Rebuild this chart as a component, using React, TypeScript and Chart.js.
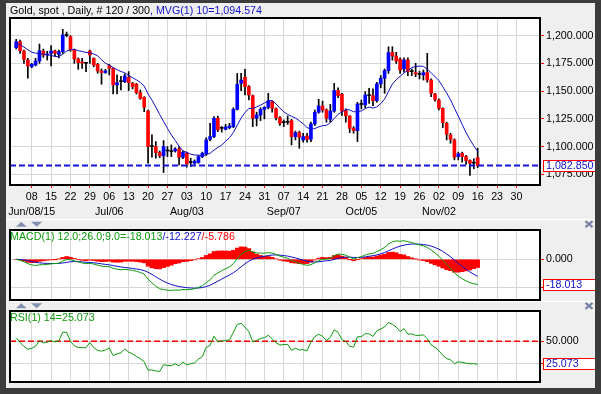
import React, { useEffect, useRef } from 'react';
import { Chart, registerables } from 'chart.js';

Chart.register(...registerables);

const FONT = '"Liberation Sans", Arial, sans-serif';
const FSIZE = 10.7;

// Daily OHLC, gold spot, bars 1..120 (Jun 2 – Nov 16, 2015)
const opens = [
  1189.2, 1194.6, 1186.2, 1178, 1172.1, 1173.6, 1177.2, 1186.2, 1182.6, 1184.1,
  1186.2, 1183.2, 1185.6, 1200.6, 1199.1, 1187.1, 1179, 1176.3, 1175.1, 1186.2,
  1179.6, 1174.2, 1168.2, 1166.7, 1173, 1170.6, 1155.6, 1158.6, 1158.6, 1162.5,
  1157.1, 1156.2, 1148.6, 1144.4, 1132.1, 1100, 1100, 1094.6, 1091.6, 1096.1,
  1095.5, 1096.1, 1097.9, 1090.4, 1094, 1085.6, 1085, 1085.6, 1091, 1093.4,
  1106.6, 1109, 1125.5, 1116.5, 1115.6, 1117.1, 1118, 1133.6, 1157.1, 1162.5,
  1154.1, 1145.9, 1125.5, 1128.5, 1133.6, 1135.4, 1140.5, 1134.2, 1126.1, 1121.6,
  1121.9, 1123.4, 1109, 1112.6, 1106, 1109.6, 1106.6, 1120.4, 1131, 1136.6,
  1133, 1124.6, 1132, 1150.5, 1147.1, 1132.4, 1127.6, 1116.5, 1114.4, 1138,
  1137.5, 1146, 1145.9, 1141.4, 1156.5, 1161.6, 1168.5, 1185, 1181.7, 1178.7,
  1170, 1178.1, 1167.6, 1166.7, 1165, 1164.6, 1166.7, 1160, 1147.4, 1142,
  1134.5, 1121, 1110.5, 1106, 1091, 1094, 1091, 1087.4, 1085, 1090,
];
const highs = [
  1196.7, 1196, 1187, 1179.6, 1175.1, 1179.6, 1192.5, 1188, 1186, 1191,
  1187, 1187, 1205.7, 1203.3, 1200, 1188, 1180, 1179.6, 1176, 1187.1,
  1180, 1175, 1170, 1169.7, 1174.2, 1171, 1164.6, 1163.4, 1165.5, 1167.6,
  1158, 1157, 1151, 1145, 1133, 1110.5, 1104.5, 1096, 1105.4, 1100,
  1101.5, 1099, 1100, 1096, 1095, 1089.5, 1088, 1092, 1095, 1108,
  1121, 1127, 1127.6, 1118, 1120, 1121, 1135, 1166, 1166.1, 1169.7,
  1155, 1146.5, 1131, 1135, 1136, 1148, 1141, 1135, 1127, 1124,
  1127.6, 1124.5, 1114, 1114, 1112, 1112, 1122, 1133, 1142.6, 1141,
  1134, 1138, 1157, 1153, 1148, 1134, 1128, 1118, 1140, 1142,
  1149.5, 1152.6, 1152, 1158, 1164, 1170, 1190, 1190, 1185, 1180,
  1180, 1180, 1170, 1175.1, 1168, 1169, 1184.1, 1161, 1148, 1143,
  1135, 1122, 1112, 1107, 1095, 1095, 1092, 1088, 1089, 1098.5,
];
const lows = [
  1188, 1184, 1175, 1161.6, 1171, 1172.7, 1175, 1180.5, 1178, 1172.7,
  1182, 1180, 1184, 1199, 1186, 1175.1, 1169.7, 1170.6, 1167.6, 1175.1,
  1172, 1166.1, 1156.2, 1166, 1164.6, 1147.4, 1147.4, 1151, 1157.7, 1150.5,
  1152, 1147.4, 1142.6, 1131.5, 1085, 1090.4, 1089.5, 1090, 1076.6, 1091,
  1091, 1095, 1083.5, 1089, 1081.4, 1082, 1084, 1085, 1090, 1092,
  1105, 1108, 1113.5, 1113, 1115, 1116, 1117, 1133, 1150.5, 1146.5,
  1142, 1118, 1118.6, 1123.4, 1125, 1134, 1131, 1124, 1119, 1118,
  1120, 1101.5, 1106, 1098.5, 1104, 1104, 1104.5, 1119, 1130, 1131,
  1122, 1122, 1131, 1144, 1128, 1122, 1112.6, 1112, 1104.5, 1134,
  1135, 1139, 1137, 1140, 1153, 1148, 1166, 1178, 1175, 1166,
  1167, 1164, 1164, 1163, 1161, 1160, 1158, 1145, 1141, 1133,
  1117, 1106, 1103, 1088, 1088, 1086, 1084, 1073.9, 1080, 1081,
];
const closes = [
  1194.6, 1186.5, 1178.7, 1172.7, 1174.2, 1177.2, 1186.5, 1182.6, 1183.5, 1186.2,
  1184.1, 1185.6, 1200.6, 1200.3, 1187.1, 1179, 1175.7, 1175.4, 1175.1, 1182.6,
  1173.6, 1168.2, 1166.7, 1168.2, 1170.6, 1155.6, 1157.7, 1158.9, 1163.7, 1157.7,
  1154.1, 1148.6, 1143.5, 1135.4, 1100, 1100.3, 1094.6, 1091.6, 1100, 1096.4,
  1095.8, 1097.9, 1090.4, 1094.9, 1084.4, 1085.9, 1086.8, 1091, 1094, 1106,
  1109, 1125.5, 1115, 1116.8, 1117.7, 1118.6, 1133.6, 1156.2, 1160, 1154.1,
  1146.5, 1125.5, 1128.5, 1133.6, 1135.4, 1141.1, 1134.5, 1126.1, 1121, 1121.9,
  1122.2, 1109, 1112.6, 1108.4, 1109, 1106.6, 1120.4, 1131, 1136.6, 1133,
  1125.5, 1132, 1150.5, 1146, 1132, 1127.6, 1116.5, 1114.4, 1138.4, 1138.4,
  1146.5, 1146.2, 1141.4, 1156.5, 1161.6, 1168.5, 1184.7, 1181.7, 1177.2, 1169,
  1178.1, 1167.6, 1167.9, 1165.5, 1165.2, 1166.7, 1160, 1148, 1142.6, 1134.5,
  1121.6, 1111.1, 1106.6, 1090.4, 1093.4, 1091, 1087.4, 1085, 1085.3, 1082.85,
];
// Estimated closes before the visible window (seed the moving average and RSI)
const preWindowCloses = [1188, 1193, 1216, 1219, 1225, 1226, 1200, 1201, 1196, 1196, 1187, 1188, 1189, 1190, 1191];

const weekLabels = ['08', '15', '22', '29', '06', '13', '20', '27', '03', '10', '17', '24', '31', '07', '14', '21', '28', '05', '12', '19', '26', '02', '09', '16', '23', '30'];
const monthLabels = ['Jun/08/15', '', '', '', 'Jul/06', '', '', '', 'Aug/03', '', '', '', '', 'Sep/07', '', '', '', 'Oct/05', '', '', '', 'Nov/02', '', '', '', ''];
const priceTicks = [1075, 1100, 1125, 1150, 1175, 1200];
const macdTicks = [-20, 0];
const rsiTicks = [25, 50];
const rsiLevel = 50;

const lastMa = 1094.574;
const lastMacd = -18.013;
const lastSignal = -12.227;
const lastHist = -5.786;
const lastRsi = 25.073;

const fmtPrice = (v: number) => v.toLocaleString('en-US', { minimumFractionDigits: 3, maximumFractionDigits: 3 });

// ---- indicators derived from the closes ----
const barX = closes.map((_, i) => i + 1);
const allCloses = [...preWindowCloses, ...closes];
const P = preWindowCloses.length;
const ma10 = closes.map((_, i) => {
  let s = 0;
  for (let k = 0; k < 10; k++) s += allCloses[P + i - k];
  return s / 10;
});
const macdLine: number[] = [];
const signalLine: number[] = [];
const histo: number[] = [];
{
  let e12 = closes[0], e26 = closes[0], sig = 0;
  closes.forEach((c, i) => {
    e12 += (2 / 13) * (c - e12);
    e26 += (2 / 27) * (c - e26);
    const m = e12 - e26;
    sig = i === 0 ? m : sig + 0.2 * (m - sig);
    macdLine.push(m);
    signalLine.push(sig);
    histo.push(m - sig);
  });
}
const rsi: number[] = [];
{
  let ag = 0, al = 0;
  for (let k = 1; k < P; k++) {
    const d = allCloses[k] - allCloses[k - 1];
    if (d > 0) ag += d; else al -= d;
  }
  ag /= P - 1; al /= P - 1;
  for (let j = P; j < allCloses.length; j++) {
    const d = allCloses[j] - allCloses[j - 1];
    ag = (ag * 13 + Math.max(d, 0)) / 14;
    al = (al * 13 + Math.max(-d, 0)) / 14;
    rsi.push(100 - 100 / (1 + ag / al));
  }
}

const X_MIN = -0.6;
const X_MAX = 136.07;
const GRID = '#d6d6d6';
const BLUE = '#0000ff';
const RED = '#ff0000';
const GREEN = '#0c9a0c';
const DBLUE = '#1010c8';

function xScale(showLabels: boolean) {
  return {
    type: 'linear',
    min: X_MIN,
    max: X_MAX,
    offset: false,
    afterBuildTicks: (s: any) => { s.ticks = weekLabels.map((_, k) => ({ value: (k + 1) * 5 })); },
    afterFit: (s: any) => { s.height = showLabels ? 33 : 0; s.paddingLeft = 0; s.paddingRight = 0; },
    grid: { color: GRID, lineWidth: 1, offset: false, drawTicks: showLabels, tickLength: 3, tickColor: RED },
    border: { display: false },
    ticks: {
      display: showLabels,
      autoSkip: false,
      maxRotation: 0,
      minRotation: 0,
      padding: 1,
      color: '#000',
      font: { family: FONT, size: FSIZE, lineHeight: 1.43 },
      callback: (_v: any, k: number) => (monthLabels[k] ? [weekLabels[k], monthLabels[k]] : weekLabels[k]),
    },
  };
}

function yScale(min: number, max: number, ticks: number[], fmt: (v: number) => string) {
  return {
    position: 'right',
    min,
    max,
    afterBuildTicks: (s: any) => { s.ticks = ticks.map((v) => ({ value: v })); },
    afterFit: (s: any) => { s.width = 61; s.paddingTop = 0; s.paddingBottom = 0; },
    grid: { color: GRID, lineWidth: 1, drawTicks: true, tickLength: 4, tickColor: RED },
    border: { display: false },
    ticks: { padding: 2, color: '#000', font: { family: FONT, size: FSIZE }, callback: (v: any) => fmt(Number(v)) },
  };
}

function panelPlugin(titles: [string, string][], titleY: number, box?: { value: number; text: string }) {
  return {
    id: 'panelDecor',
    beforeDraw(chart: any) {
      const { ctx, chartArea: a } = chart;
      ctx.save();
      ctx.fillStyle = '#ffffff';
      ctx.fillRect(a.left, a.top, a.right - a.left, a.bottom - a.top);
      ctx.restore();
    },
    afterDraw(chart: any) {
      const { ctx, chartArea: a } = chart;
      ctx.save();
      ctx.strokeStyle = '#000';
      ctx.lineWidth = 2;
      ctx.strokeRect(a.left, a.top, a.right - a.left, a.bottom - a.top);
      ctx.font = `${FSIZE}px ${FONT}`;
      ctx.textBaseline = 'middle';
      ctx.textAlign = 'left';
      let x = 10;
      for (const [t, c] of titles) {
        ctx.fillStyle = c;
        ctx.fillText(t, x, titleY);
        x += ctx.measureText(t).width;
      }
      if (box) {
        const y = Math.round(chart.scales.y.getPixelForValue(box.value));
        ctx.fillStyle = '#ffffff';
        ctx.fillRect(543, y - 6, 52, 12);
        ctx.strokeStyle = RED;
        ctx.lineWidth = 1;
        ctx.strokeRect(543.5, y - 5.5, 52, 11);
        ctx.fillStyle = DBLUE;
        ctx.fillText(box.text, 546, y + 0.5);
      }
      ctx.restore();
    },
  };
}

const common = {
  responsive: false,
  animation: false,
  devicePixelRatio: 1,
  events: [],
  plugins: { legend: { display: false }, tooltip: { enabled: false } },
};

export default function App() {
  const r1 = useRef<HTMLCanvasElement>(null);
  const r2 = useRef<HTMLCanvasElement>(null);
  const r3 = useRef<HTMLCanvasElement>(null);

  useEffect(() => {
    const lastClose = closes[closes.length - 1];
    const main = new Chart(r1.current!, {
      type: 'bar',
      data: {
        datasets: [
          {
            type: 'line',
            data: [{ x: X_MIN, y: lastClose }, { x: X_MAX, y: lastClose }],
            borderColor: '#1414d8',
            borderWidth: 2,
            borderDash: [6, 3],
            pointRadius: 0,
            order: 0,
          },
          {
            type: 'line',
            data: barX.map((x, i) => ({ x, y: ma10[i] })),
            borderColor: '#1010c0',
            borderWidth: 1,
            pointRadius: 0,
            tension: 0,
            order: 1,
          },
          {
            type: 'bar',
            data: barX.map((x, i) => ({ x, y: [opens[i], closes[i]] })),
            backgroundColor: closes.map((c, i) => (Math.abs(c - opens[i]) < 0.5 ? '#000' : c > opens[i] ? BLUE : RED)),
            barThickness: 3,
            minBarLength: 1,
            grouped: false,
            borderWidth: 0,
            order: 2,
          },
          {
            type: 'bar',
            data: barX.map((x, i) => ({ x, y: [lows[i], highs[i]] })),
            backgroundColor: '#000',
            barThickness: 1,
            grouped: false,
            borderWidth: 0,
            order: 3,
          },
        ],
      },
      options: {
        ...common,
        layout: { padding: { left: 10, top: 18, right: 0, bottom: 0 } },
        scales: {
          x: xScale(true),
          y: yScale(1065.35, 1215.96, priceTicks, fmtPrice),
        },
      } as any,
      plugins: [
        panelPlugin(
          [
            ['Gold, spot , Daily, # 120 / 300', '#000'],
            [`, MVG(1) 10=${fmtPrice(lastMa)}`, DBLUE],
          ],
          11.5,
          { value: lastClose, text: fmtPrice(lastClose) }
        ),
      ],
    } as any);

    const macd = new Chart(r2.current!, {
      type: 'bar',
      data: {
        datasets: [
          {
            type: 'line',
            data: barX.map((x, i) => ({ x, y: macdLine[i] })),
            borderColor: GREEN,
            borderWidth: 1,
            pointRadius: 0,
            order: 0,
          },
          {
            type: 'line',
            data: barX.map((x, i) => ({ x, y: signalLine[i] })),
            borderColor: DBLUE,
            borderWidth: 1,
            pointRadius: 0,
            order: 1,
          },
          {
            type: 'bar',
            data: barX.map((x, i) => ({ x, y: histo[i] })),
            backgroundColor: RED,
            barThickness: 3.9,
            grouped: false,
            borderWidth: 0,
            order: 2,
          },
        ],
      },
      options: {
        ...common,
        layout: { padding: { left: 10, top: 10, right: 0, bottom: 2 } },
        scales: {
          x: xScale(false),
          y: yScale(-29.07, 20.93, macdTicks, (v) => v.toFixed(3)),
        },
      } as any,
      plugins: [
        panelPlugin(
          [
            [`MACD(1) 12.0;26.0;9.0=${lastMacd.toFixed(3)}`, GREEN],
            [`/${lastSignal.toFixed(3)}`, DBLUE],
            [`/${lastHist.toFixed(3)}`, RED],
          ],
          17.5,
          { value: lastMacd, text: lastMacd.toFixed(3) }
        ),
      ],
    } as any);

    const rsiChart = new Chart(r3.current!, {
      type: 'line',
      data: {
        datasets: [
          {
            data: barX.map((x, i) => ({ x, y: rsi[i] })),
            borderColor: GREEN,
            borderWidth: 1,
            pointRadius: 0,
            order: 0,
          },
          {
            data: [{ x: X_MIN, y: rsiLevel }, { x: X_MAX, y: rsiLevel }],
            borderColor: RED,
            borderWidth: 1.5,
            borderDash: [6, 3],
            pointRadius: 0,
            order: 1,
          },
        ],
      },
      options: {
        ...common,
        layout: { padding: { left: 10, top: 9, right: 0, bottom: 6 } },
        scales: {
          x: xScale(false),
          y: yScale(4.58, 83.8, rsiTicks, (v) => v.toFixed(3)),
        },
      } as any,
      plugins: [
        panelPlugin([[`RSI(1) 14=${lastRsi.toFixed(3)}`, GREEN]], 16, { value: lastRsi, text: lastRsi.toFixed(3) }),
      ],
    } as any);

    return () => {
      main.destroy();
      macd.destroy();
      rsiChart.destroy();
    };
  }, []);

  const FRAME = '#3c3c3c';
  const ICON = '#8391b1';
  const abs = (l: number, t: number, w: number, h: number, bg: string): React.CSSProperties => ({
    position: 'absolute', left: l, top: t, width: w, height: h, background: bg,
  });

  return (
    <div style={{ position: 'fixed', left: 0, top: 0, width: 601, height: 394, background: '#efefef', overflow: 'hidden' }}>
      <canvas ref={r1} width={601} height={218} style={{ position: 'absolute', left: 0, top: 0 }} />
      <canvas ref={r2} width={601} height={82} style={{ position: 'absolute', left: 0, top: 220 }} />
      <canvas ref={r3} width={601} height={86} style={{ position: 'absolute', left: 0, top: 302 }} />
      <div style={abs(6, 219, 589, 1, '#ffffff')} />
      <div style={abs(6, 301, 589, 1, '#ffffff')} />
      <svg width={601} height={394} style={{ position: 'absolute', left: 0, top: 0 }}>
        {[224.2, 305.8].map((cy) => (
          <g key={cy}>
            <polygon points={`16,${cy + 2.5} 26.7,${cy + 2.5} 21.3,${cy - 2.5}`} fill={ICON} />
            <polygon points={`31,${cy - 2.5} 42.3,${cy - 2.5} 36.7,${cy + 2.5}`} fill={ICON} />
            <path d={`M585.5 ${cy - 3} L592.5 ${cy + 3} M592.5 ${cy - 3} L585.5 ${cy + 3}`} stroke="#7886a6" strokeWidth={2.2} />
          </g>
        ))}
      </svg>
      <div style={abs(0, 0, 601, 3, FRAME)} />
      <div style={abs(0, 0, 6, 394, FRAME)} />
      <div style={abs(595, 0, 6, 394, FRAME)} />
      <div style={abs(0, 388, 601, 6, FRAME)} />
    </div>
  );
}
